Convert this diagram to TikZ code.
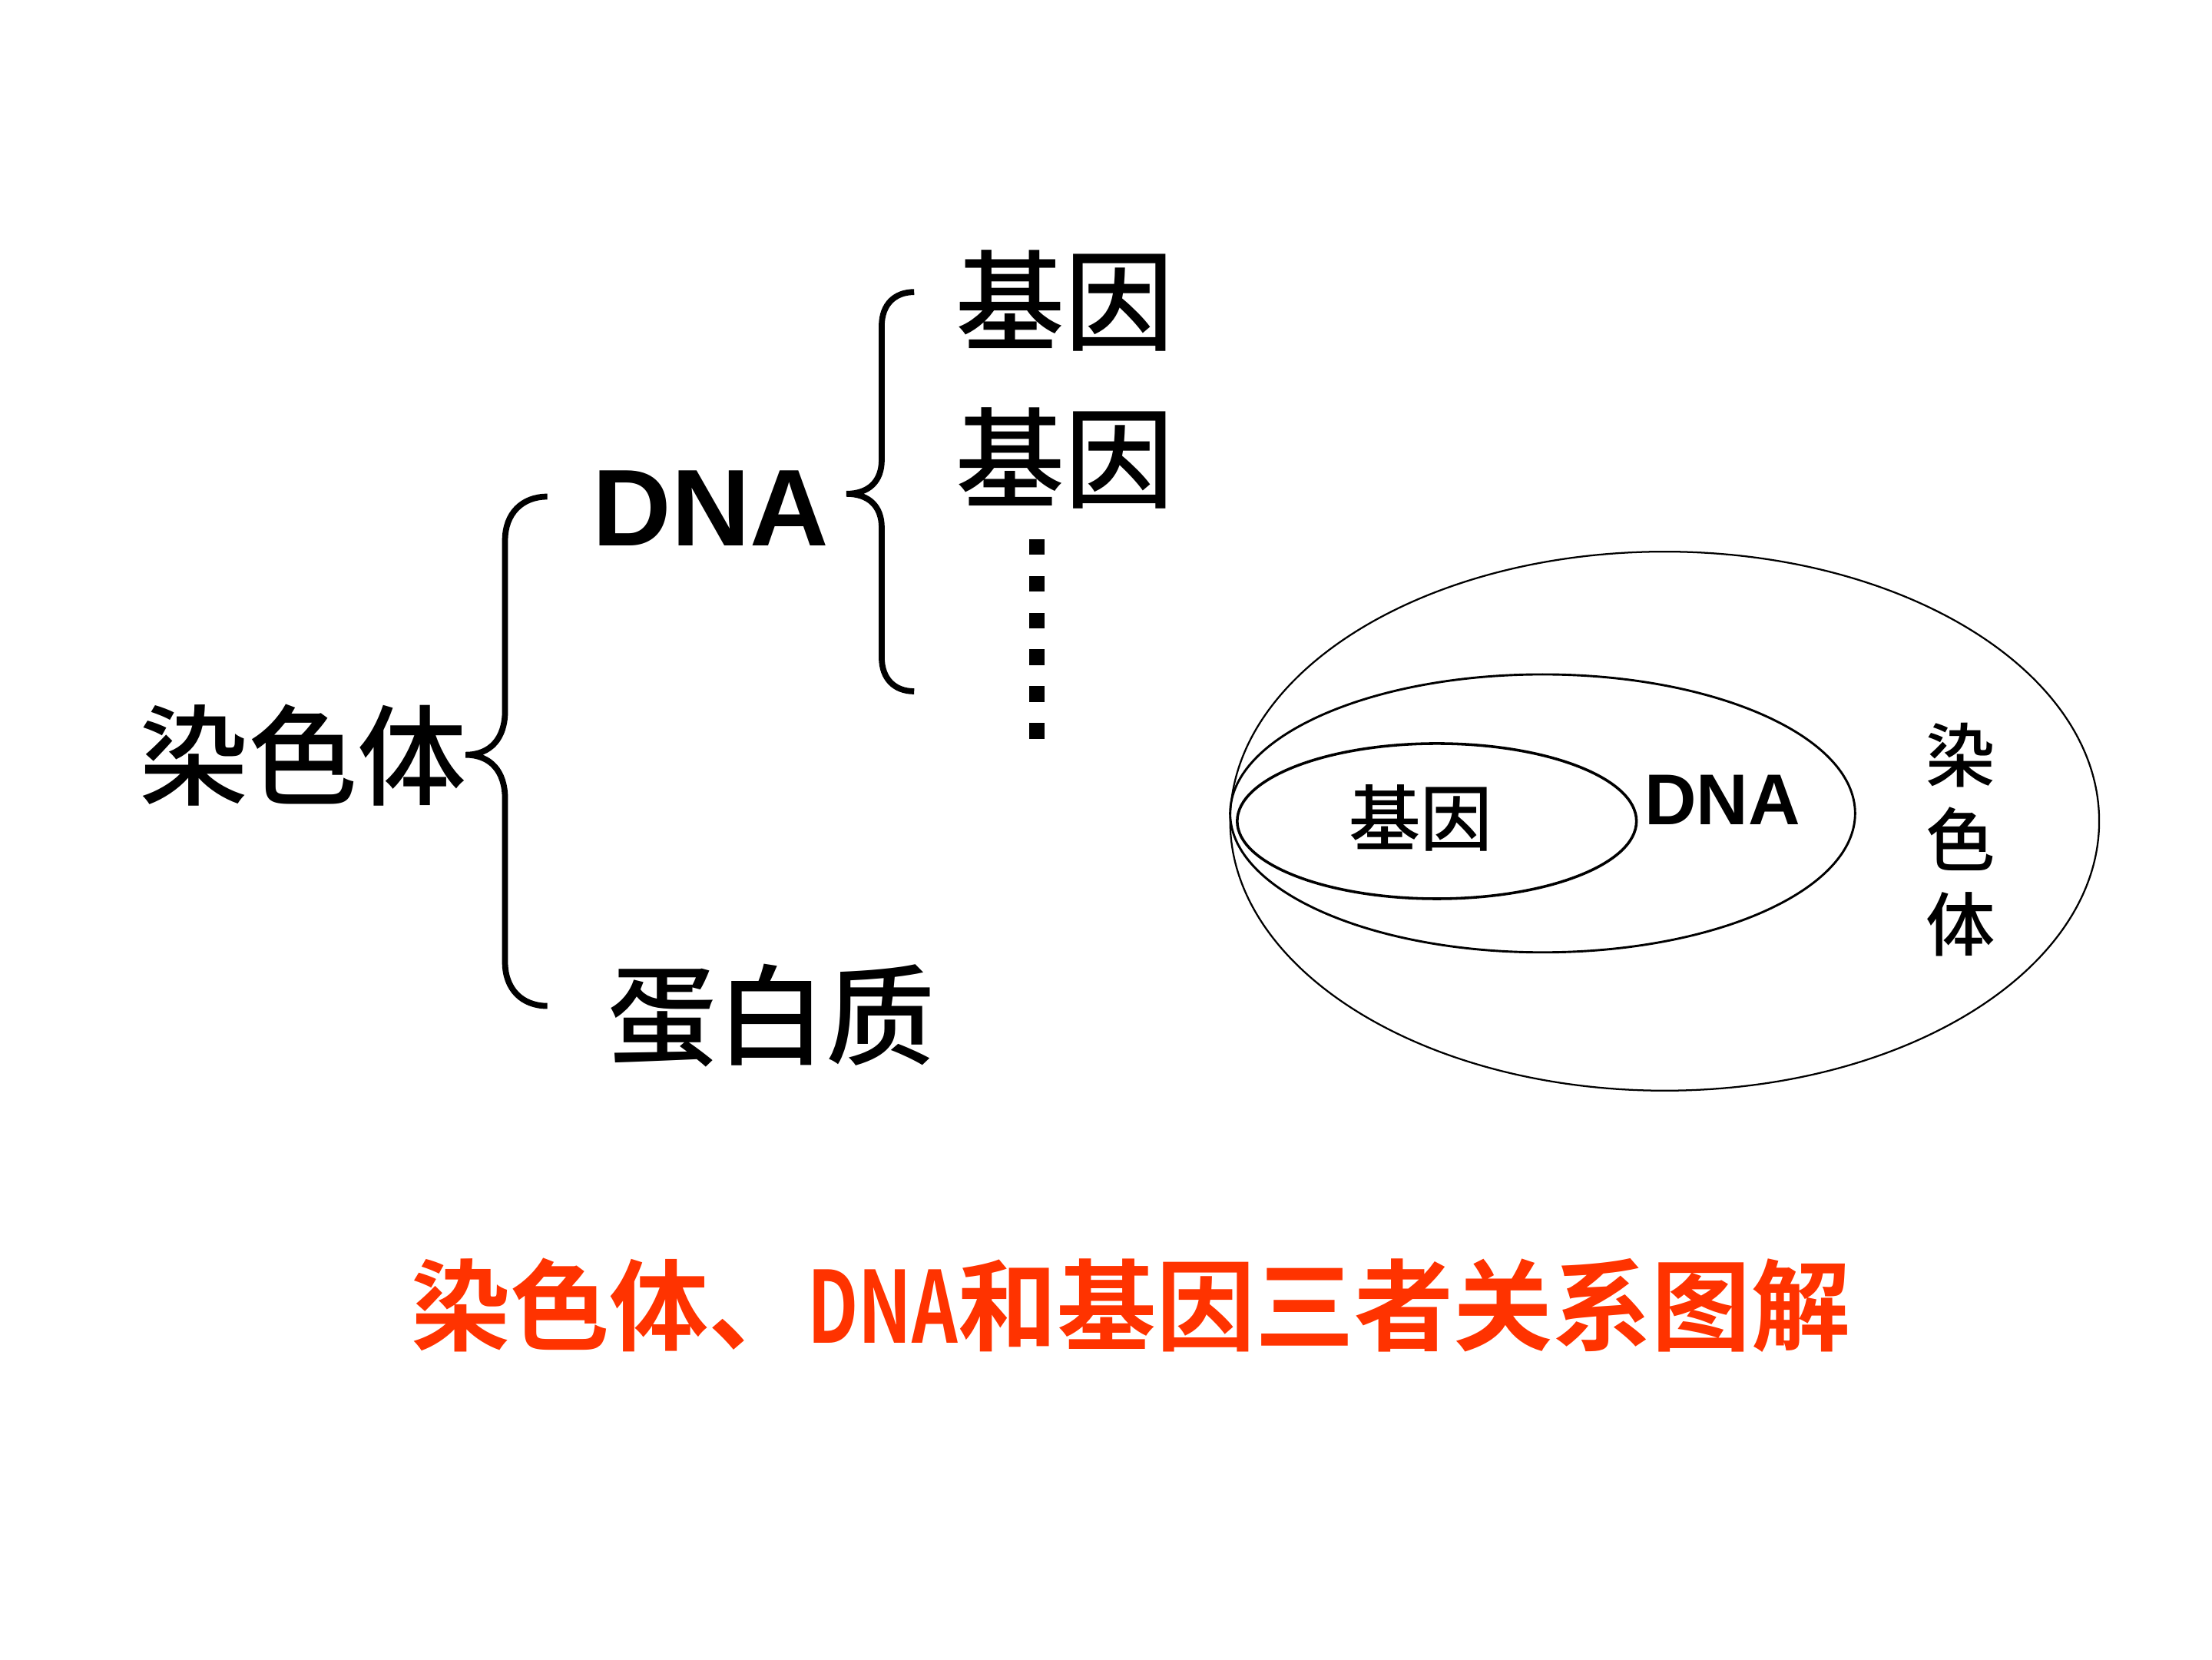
\documentclass[tikz,border=0pt]{standalone}
\usepackage{fontspec}
\setmainfont{Liberation Sans}
\newfontfamily\cjk{Noto Sans CJK SC Medium}
\newfontfamily\cjkbold{Noto Sans CJK SC Bold}
\definecolor{titlered}{HTML}{FF3300}
\tikzset{
  curly/.style={line width=2.4pt},
  bigcjk/.style={font=\cjk\fontsize{44}{44}\selectfont},
  bigdna/.style={font=\bfseries\fontsize{44}{44}\selectfont},
  smallcjk/.style={font=\cjk\fontsize{29}{29}\selectfont},
  smalldna/.style={font=\bfseries\fontsize{29}{29}\selectfont},
  dotbox/.style={fill, minimum size=0.22cm, inner sep=0pt},
}
\begin{document}
\begin{tikzpicture}
  \useasboundingbox (0,0) rectangle (31.36,23.52);

  \node[bigcjk] (chrom) at (4.30,12.82) {染色体};
  \node[bigdna] (dna) at (10.08,16.32) {DNA};
  \node[bigcjk] (protein) at (10.94,9.12) {蛋白质};
  \node[bigcjk] (geneA) at (15.10,19.26) {基因};
  \node[bigcjk] (geneB) at (15.10,17.02) {基因};
  \foreach \i in {0,...,5}
    \node[dotbox] (more\i) at (14.70,15.77-0.522*\i) {};

  \draw[curly] (7.76,16.48) .. controls (7.40,16.48) and (7.16,16.24) .. (7.16,15.86)
    -- (7.16,13.44) .. controls (7.16,13.06) and (6.96,12.82) .. (6.60,12.82)
    .. controls (6.96,12.82) and (7.16,12.58) .. (7.16,12.20)
    -- (7.16,9.88) .. controls (7.16,9.50) and (7.40,9.26) .. (7.76,9.26);
  \draw[curly] (12.96,19.38) .. controls (12.68,19.38) and (12.50,19.20) .. (12.50,18.90)
    -- (12.50,17.00) .. controls (12.50,16.70) and (12.32,16.52) .. (12.00,16.52)
    .. controls (12.32,16.52) and (12.50,16.34) .. (12.50,16.04)
    -- (12.50,14.20) .. controls (12.50,13.90) and (12.68,13.72) .. (12.96,13.72);

  \draw[line width=0.7pt] (23.60,11.88) ellipse [x radius=6.16, y radius=3.82];
  \draw[line width=0.9pt] (21.87,11.99) ellipse [x radius=4.43, y radius=1.97];
  \draw[line width=1.1pt] (20.37,11.88) ellipse [x radius=2.83, y radius=1.10];
  \node[smallcjk] (geneC) at (20.14,11.92) {基因};
  \node[smalldna] (dnaC) at (24.42,12.18) {DNA};
  \node[font=\cjk\fontsize{28}{34}\selectfont, align=center] (chromC) at (27.80,11.62) {染\\色\\体};

  \node[font=\cjkbold\fontsize{40}{40}\selectfont, text=titlered] (title) at (16.03,5.02)
    {染色体、\scalebox{0.72}[1]{DNA}和基因三者关系图解};
\end{tikzpicture}
\end{document}
